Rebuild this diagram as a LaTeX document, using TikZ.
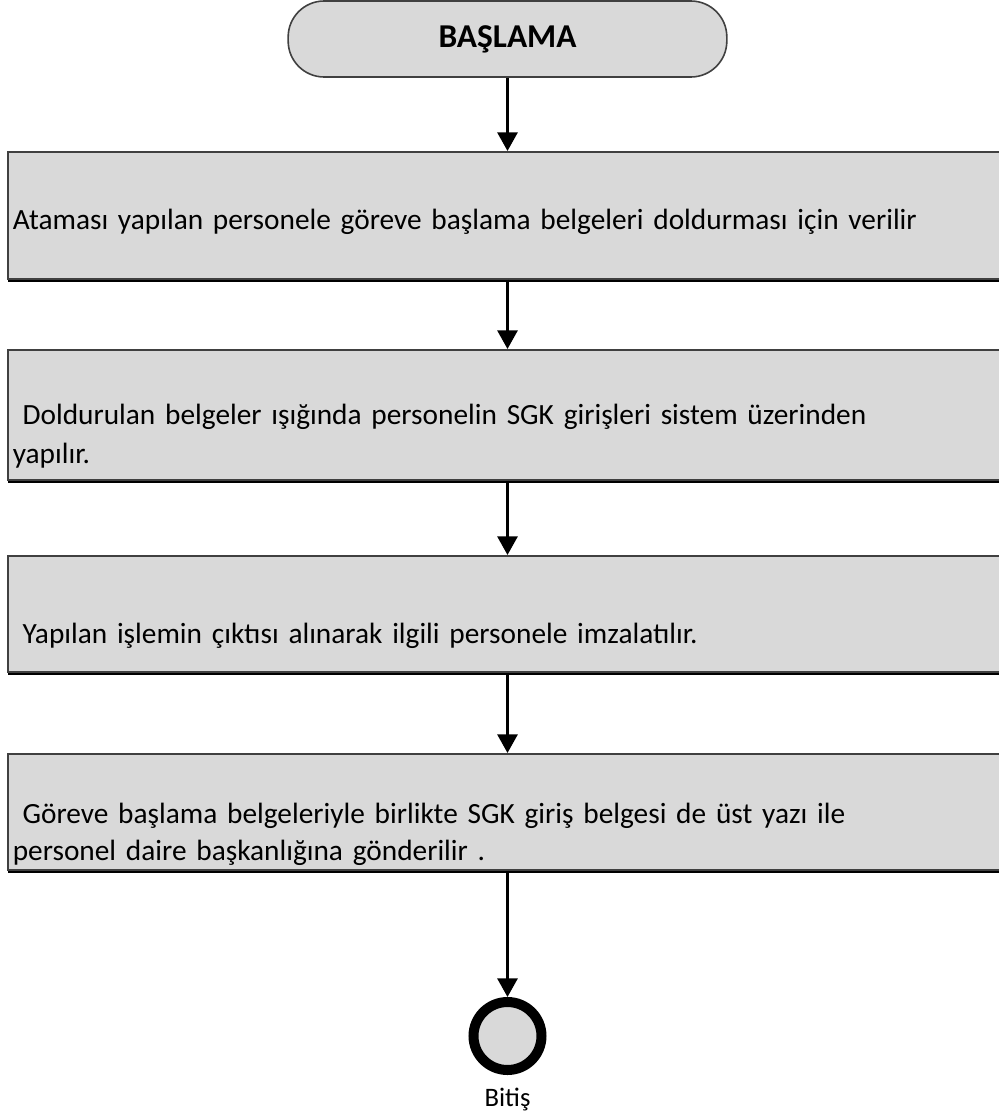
\documentclass[tikz,border=0pt]{standalone}
\usepackage{fontspec}
\setmainfont{Carlito}
\usetikzlibrary{arrows.meta, positioning, shadows}
\definecolor{kutugri}{HTML}{D9D9D9}
\definecolor{kenargri}{HTML}{404040}
\newcommand{\ustbosluk}[1]{\rule{0pt}{#1}}
\tikzset{
    baslangic/.style={
        rectangle, rounded corners=27pt, minimum width=329pt, minimum height=57pt,
        align=center, draw=kenargri, line width=1.2pt, fill=kutugri, font=\fontsize{25}{29}\selectfont\bfseries
    },
    islem/.style={
        rectangle, anchor=north west, minimum height=#1, text width=770pt, inner xsep=3.75pt,
        align=left, draw=kenargri, line width=1.2pt, fill=kutugri,
        drop shadow={shadow xshift=0pt, shadow yshift=-2.4pt, fill=black, opacity=1},
        font=\fontsize{22}{29.25}\selectfont
    },
    bitis/.style={
        circle, minimum size=51pt, draw=black, line width=7.5pt, fill=kutugri
    },
    ok/.style={
        line width=2.2pt, -{Triangle[length=14pt, width=15pt]}, draw=black
    }
}

\begin{document}
\begin{tikzpicture}[x=0.75pt, y=-0.75pt]
    \useasboundingbox (0,0) rectangle (999,1118);

    % Baslangic
    \node[baslangic] (basla) at (507.5, 39) {BAŞLAMA};

    % Islem adimlari
    \node[islem=95.25pt] (adim1) at (7, 151) {\ustbosluk{25.5pt}Ataması yapılan personele göreve başlama belgeleri doldurması için verilir};
    \node[islem=97.5pt] (adim2) at (7, 349) {\ustbosluk{48pt}~Doldurulan belgeler ışığında personelin SGK girişleri sistem üzerinden\\yapılır.};
    \node[islem=87pt] (adim3) at (7, 555) {\ustbosluk{48.75pt}~Yapılan işlemin çıktısı alınarak ilgili personele imzalatılır.};
    \node[islem=86.25pt, font=\fontsize{22}{27.75}\selectfont] (adim4) at (7, 753) {\ustbosluk{48.75pt}~Göreve başlama belgeleriyle birlikte SGK giriş belgesi de üst yazı ile\\personel daire başkanlığına gönderilir .};

    % Bitis
    \node[bitis] (son) at (507.5, 1036) {};
    \node[font=\fontsize{20}{24}\selectfont, below=6pt of son] (sonyazi) {Bitiş};

    % Oklar
    \draw[ok] (basla) -- (basla |- adim1.north);
    \draw[ok] (basla |- adim1.south) -- (basla |- adim2.north);
    \draw[ok] (basla |- adim2.south) -- (basla |- adim3.north);
    \draw[ok] (basla |- adim3.south) -- (basla |- adim4.north);
    \draw[ok] (basla |- adim4.south) -- (son);
\end{tikzpicture}
\end{document}
